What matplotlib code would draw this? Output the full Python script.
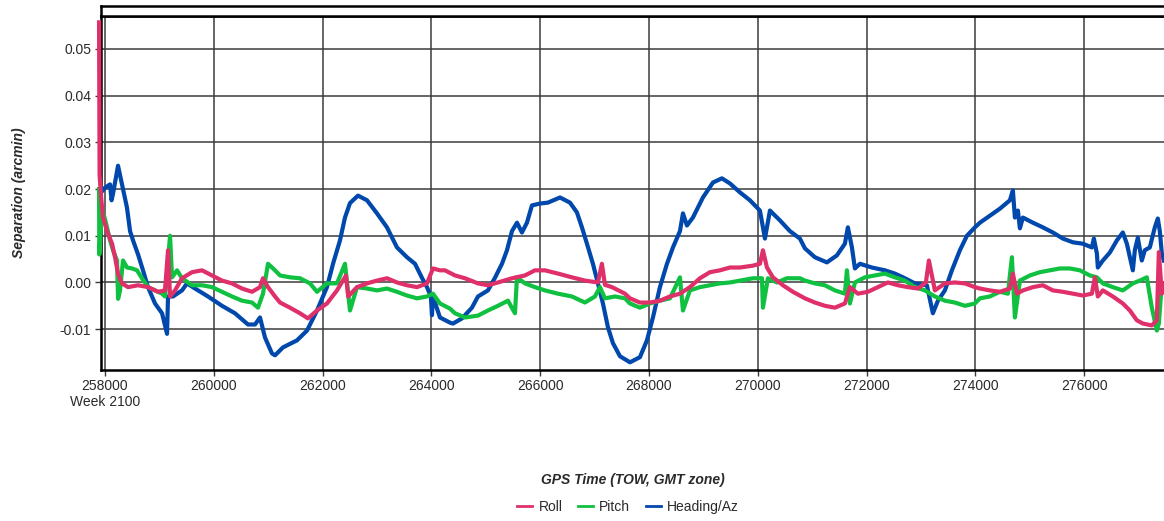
import numpy as np
import matplotlib
matplotlib.use("Agg")
import matplotlib.pyplot as plt
from matplotlib.lines import Line2D
from matplotlib.ticker import FuncFormatter

plt.rcParams["font.family"] = ["Liberation Sans", "DejaVu Sans"]
plt.rcParams["axes.unicode_minus"] = False

# GPS time of week (s) and separation (arcmin)
heading_t = [257908, 258000, 258092, 258120, 258147, 258239, 258312, 258404, 258460, 258515,
             258607, 258698, 258790, 258919, 259048, 259140, 259158, 259250, 259415, 259507,
             259654, 259893, 260150, 260389, 260628, 260757, 260849, 260941, 261069, 261125,
             261272, 261529, 261713, 261897, 262080, 262191, 262319, 262411, 262503, 262650,
             262816, 262999, 263183, 263367, 263551, 263698, 263826, 263918, 263990, 264010,
             264029, 264157, 264341, 264396, 264562, 264745, 264856, 265039, 265168, 265297,
             265389, 265481, 265573, 265664, 265756, 265848, 265995, 266142, 266363, 266547,
             266675, 266767, 266859, 266969, 267061, 267153, 267245, 267337, 267466, 267650,
             267833, 267962, 268072, 268201, 268330, 268440, 268569, 268624, 268697, 268807,
             268991, 269175, 269340, 269488, 269671, 269855, 270039, 270131, 270223, 270406,
             270590, 270774, 270866, 271050, 271270, 271454, 271601, 271656, 271730, 271785,
             271877, 272097, 272336, 272520, 272704, 272888, 273108, 273218, 273311, 273439,
             273568, 273715, 273844, 273991, 274083, 274266, 274450, 274634, 274689, 274726,
             274781, 274818, 274873, 275057, 275240, 275424, 275608, 275792, 275976, 276141,
             276178, 276233, 276251, 276343, 276471, 276600, 276710, 276784, 276839, 276894,
             276931, 276986, 277059, 277114, 277206, 277298, 277353, 277390, 277427, 277464]
heading_v = [0.0190, 0.0203, 0.0210, 0.0176, 0.0190, 0.0250, 0.0210, 0.0160, 0.0110, 0.0090,
             0.0060, 0.0026, -0.0010, -0.0045, -0.0066, -0.0110, -0.0030, -0.0030, -0.0017, -0.0002,
             -0.0013, -0.0030, -0.0050, -0.0066, -0.0090, -0.0090, -0.0075, -0.0118, -0.0152, -0.0156,
             -0.0139, -0.0124, -0.0103, -0.0060, -0.0010, 0.0040, 0.0090, 0.0139, 0.0170, 0.0186,
             0.0176, 0.0148, 0.0118, 0.0075, 0.0054, 0.0040, 0.0010, -0.0010, -0.0030, -0.0070,
             -0.0030, -0.0075, -0.0086, -0.0088, -0.0077, -0.0054, -0.0030, -0.0017, 0.0010, 0.0040,
             0.0069, 0.0110, 0.0128, 0.0107, 0.0128, 0.0165, 0.0169, 0.0171, 0.0182, 0.0171,
             0.0150, 0.0118, 0.0083, 0.0040, -0.0002, -0.0045, -0.0096, -0.0130, -0.0158, -0.0171,
             -0.0160, -0.0124, -0.0075, -0.0010, 0.0040, 0.0075, 0.0110, 0.0148, 0.0122, 0.0139,
             0.0182, 0.0214, 0.0223, 0.0212, 0.0193, 0.0176, 0.0154, 0.0094, 0.0154, 0.0133,
             0.0110, 0.0094, 0.0073, 0.0054, 0.0043, 0.0058, 0.0083, 0.0118, 0.0075, 0.0030,
             0.0040, 0.0032, 0.0026, 0.0019, 0.0009, -0.0002, -0.0006, -0.0066, -0.0039, -0.0017,
             0.0026, 0.0069, 0.0100, 0.0118, 0.0128, 0.0143, 0.0158, 0.0176, 0.0197, 0.0139,
             0.0154, 0.0116, 0.0139, 0.0128, 0.0118, 0.0107, 0.0094, 0.0086, 0.0083, 0.0075,
             0.0094, 0.0062, 0.0032, 0.0047, 0.0064, 0.0090, 0.0107, 0.0083, 0.0054, 0.0026,
             0.0069, 0.0096, 0.0047, 0.0069, 0.0075, 0.0118, 0.0137, 0.0110, 0.0062, 0.0047]

roll_t = [257890, 257900, 257930, 257963, 258037, 258129, 258184, 258239, 258312, 258423,
          258607, 258790, 258974, 259103, 259158, 259195, 259287, 259415, 259599, 259783,
          259967, 260150, 260334, 260518, 260702, 260849, 260904, 260996, 261125, 261217,
          261400, 261584, 261731, 261897, 262080, 262264, 262430, 262470, 262632, 262816,
          262999, 263183, 263367, 263551, 263735, 263918, 264029, 264157, 264249, 264433,
          264617, 264856, 265039, 265223, 265481, 265720, 265903, 266087, 266326, 266583,
          266822, 267061, 267134, 267190, 267319, 267558, 267650, 267833, 268017, 268201,
          268385, 268569, 268752, 268936, 269120, 269304, 269488, 269671, 269910, 270039,
          270094, 270168, 270278, 270462, 270645, 270866, 271050, 271233, 271417, 271601,
          271693, 271840, 272024, 272208, 272391, 272575, 272759, 272943, 273090, 273145,
          273255, 273439, 273623, 273807, 273991, 274083, 274266, 274450, 274634, 274689,
          274763, 274873, 275057, 275240, 275424, 275608, 275792, 275976, 276141, 276196,
          276251, 276343, 276526, 276710, 276839, 276968, 277078, 277243, 277335, 277372,
          277427, 277464]
roll_v = [0.0557, 0.0230, 0.0180, 0.0139, 0.0110, 0.0083, 0.0054, 0.0019, -0.0002, -0.0010,
          -0.0006, -0.0010, -0.0020, -0.0017, 0.0069, -0.0030, -0.0017, 0.0009, 0.0022, 0.0026,
          0.0015, 0.0004, -0.0002, -0.0013, -0.0020, -0.0010, 0.0009, -0.0010, -0.0030, -0.0043,
          -0.0054, -0.0066, -0.0077, -0.0060, -0.0045, -0.0017, 0.0015, -0.0030, -0.0010, -0.0002,
          0.0004, 0.0009, 0.0000, -0.0006, -0.0010, -0.0002, 0.0030, 0.0026, 0.0026, 0.0015,
          0.0009, -0.0002, -0.0006, 0.0000, 0.0009, 0.0015, 0.0026, 0.0026, 0.0019, 0.0011,
          0.0004, 0.0000, 0.0040, -0.0005, -0.0010, -0.0024, -0.0034, -0.0043, -0.0043, -0.0039,
          -0.0030, -0.0024, -0.0010, 0.0009, 0.0022, 0.0026, 0.0032, 0.0032, 0.0036, 0.0040,
          0.0069, 0.0032, 0.0011, -0.0006, -0.0020, -0.0034, -0.0043, -0.0050, -0.0054, -0.0045,
          -0.0010, -0.0024, -0.0020, -0.0010, 0.0000, -0.0006, -0.0010, -0.0013, 0.0000, 0.0047,
          -0.0017, -0.0002, 0.0000, -0.0002, -0.0010, -0.0013, -0.0017, -0.0020, -0.0013, 0.0019,
          -0.0024, -0.0017, -0.0010, -0.0006, -0.0017, -0.0020, -0.0024, -0.0028, -0.0024, 0.0011,
          -0.0030, -0.0017, -0.0030, -0.0045, -0.0060, -0.0081, -0.0088, -0.0092, -0.0081, 0.0065,
          -0.0024, -0.0002]

pitch_t = [257890, 257895, 257945, 258037, 258092, 258147, 258220, 258240, 258276, 258331,
           258404, 258496, 258588, 258680, 258790, 258919, 259048, 259103, 259195, 259232,
           259324, 259415, 259599, 259783, 259967, 260150, 260334, 260518, 260702, 260812,
           260904, 260996, 261125, 261217, 261400, 261584, 261768, 261897, 262080, 262264,
           262411, 262503, 262632, 262816, 262999, 263183, 263367, 263551, 263735, 263918,
           264029, 264157, 264341, 264433, 264617, 264856, 265039, 265223, 265407, 265536,
           265573, 265720, 265903, 266087, 266326, 266583, 266822, 267006, 267098, 267190,
           267374, 267558, 267650, 267833, 268017, 268201, 268385, 268569, 268624, 268752,
           268936, 269120, 269304, 269488, 269671, 269910, 270076, 270094, 270186, 270352,
           270535, 270774, 270866, 271050, 271233, 271417, 271601, 271638, 271693, 271785,
           271969, 272152, 272336, 272520, 272704, 272888, 273071, 273255, 273439, 273623,
           273807, 273991, 274083, 274266, 274450, 274597, 274671, 274726, 274818, 275001,
           275185, 275369, 275553, 275737, 275921, 276104, 276233, 276343, 276526, 276710,
           276894, 277022, 277151, 277243, 277335, 277372, 277427, 277464]
pitch_v = [0.0200, 0.0060, 0.0160, 0.0118, 0.0090, 0.0069, 0.0047, -0.0035, -0.0017, 0.0047,
           0.0032, 0.0030, 0.0026, 0.0009, -0.0010, -0.0017, -0.0024, -0.0030, 0.0100, 0.0011,
           0.0026, 0.0009, -0.0006, -0.0006, -0.0010, -0.0020, -0.0030, -0.0039, -0.0043, -0.0054,
           -0.0024, 0.0040, 0.0026, 0.0015, 0.0011, 0.0009, -0.0002, -0.0020, -0.0002, -0.0002,
           0.0040, -0.0060, -0.0010, -0.0013, -0.0017, -0.0013, -0.0020, -0.0028, -0.0034, -0.0030,
           -0.0024, -0.0045, -0.0056, -0.0066, -0.0075, -0.0071, -0.0060, -0.0050, -0.0039, -0.0066,
           0.0011, -0.0002, -0.0010, -0.0017, -0.0024, -0.0030, -0.0043, -0.0030, -0.0010, -0.0034,
           -0.0030, -0.0034, -0.0045, -0.0054, -0.0045, -0.0039, -0.0034, 0.0011, -0.0060, -0.0017,
           -0.0010, -0.0006, -0.0002, 0.0000, 0.0004, 0.0009, 0.0009, -0.0054, 0.0009, 0.0000,
           0.0009, 0.0009, 0.0004, -0.0002, -0.0006, -0.0017, -0.0024, 0.0026, -0.0045, 0.0000,
           0.0011, 0.0015, 0.0019, 0.0011, 0.0004, -0.0010, -0.0017, -0.0030, -0.0039, -0.0043,
           -0.0050, -0.0045, -0.0034, -0.0030, -0.0020, -0.0024, 0.0054, -0.0075, 0.0004, 0.0015,
           0.0022, 0.0026, 0.0030, 0.0030, 0.0026, 0.0015, 0.0011, -0.0002, -0.0010, -0.0017,
           -0.0002, 0.0004, 0.0011, -0.0054, -0.0103, -0.0088, -0.0002, -0.0010]

x_ticks = [258000, 260000, 262000, 264000, 266000, 268000, 270000, 272000, 274000, 276000]
y_ticks = [-0.01, 0.00, 0.01, 0.02, 0.03, 0.04, 0.05]
week_label = "Week 2100"
series_names = ["Roll", "Pitch", "Heading/Az"]

RED = "#e0306a"
GREEN = "#10c040"
BLUE = "#0048ac"
GRID = "#3c3c3c"
TXT = "#2a2a2a"

fig = plt.figure(figsize=(11.64, 5.21), dpi=100)

left = 101 / 1164
width = (1172 - 101) / 1164
bottom = 1 - 369.5 / 521
height = (369.5 - 15.7) / 521
ax = fig.add_axes([left, bottom, width, height])

ax.plot(heading_t, heading_v, color=BLUE, lw=3.0, clip_on=False, zorder=3)
ax.plot(pitch_t, pitch_v, color=GREEN, lw=3.0, clip_on=False, zorder=4)
ax.plot(roll_t, roll_v, color=RED, lw=3.0, clip_on=False, zorder=5)

ax.set_xlim(257926, 258000 + (1172 - 105) * 2000 / 108.8)
ax.set_ylim(-0.01864, 0.05713)

ax.set_xticks(x_ticks)
ax.set_yticks(y_ticks)
ax.xaxis.set_major_formatter(
    FuncFormatter(lambda v, p: "%d\n%s" % (v, week_label) if p == 0 else "%d" % v))
ax.yaxis.set_major_formatter(FuncFormatter(lambda v, p: "%.2f" % v))
ax.tick_params(axis="both", direction="out", length=4, width=1.0, color=GRID,
               labelsize=10, labelcolor=TXT, pad=3)
ax.grid(True, color=GRID, lw=1.1)
ax.set_axisbelow(True)
for s in ax.spines.values():
    s.set_linewidth(1.8)
    s.set_color("black")

ax.set_ylabel("Separation (arcmin)", fontsize=10, fontweight="bold", style="italic", color=TXT)
ax.yaxis.set_label_coords(-0.07, 0.5)
ax.set_xlabel("GPS Time (TOW, GMT zone)", fontsize=10, fontweight="bold", style="italic", color=TXT)
ax.xaxis.set_label_coords((633 - 101) / (1172 - 101), -0.293)

# thin empty strip above the plot
ax_top = fig.add_axes([left, 1 - 15.7 / 521, width, 9.7 / 521])
ax_top.set_xticks([])
ax_top.set_yticks([])
for s in ax_top.spines.values():
    s.set_linewidth(1.8)

# legend with thinner swatches than the data lines
handles = [Line2D([], [], color=c, lw=2.0) for c in (RED, GREEN, BLUE)]
fig.legend(handles, series_names,
           loc="center", bbox_to_anchor=(628 / 1164, 1 - 507 / 521), ncol=3,
           frameon=False, fontsize=10, handlelength=1.1, handletextpad=0.45,
           columnspacing=1.1, labelcolor=TXT)

fig.savefig("out.png", dpi=100)
